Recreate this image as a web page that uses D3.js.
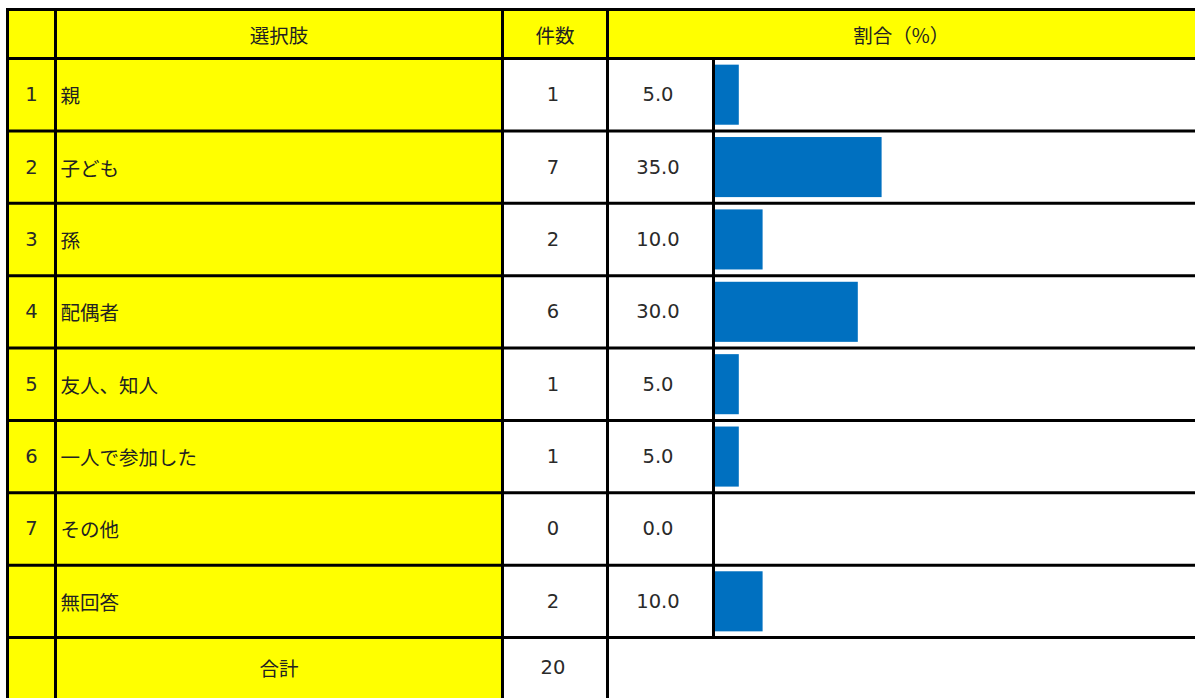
<!DOCTYPE html>
<html><head><meta charset="utf-8">
<script src="https://cdn.jsdelivr.net/npm/d3@7"></script>
<style>
html,body{margin:0;padding:0;background:#fff;}
svg{display:block;}
</style></head>
<body>
<svg id="chart" width="1195" height="698"></svg>
<script>
// ---- data ----
const headers = ["", "選択肢", "件数", "割合（%）"];
const indices = ["1", "2", "3", "4", "5", "6", "7", ""];
const choices = ["親", "子ども", "孫", "配偶者", "友人、知人", "一人で参加した", "その他", "無回答"];
const counts = [1, 7, 2, 6, 1, 1, 0, 2];
const percents = [5.0, 35.0, 10.0, 30.0, 5.0, 5.0, 0.0, 10.0];
const totalLabel = "合計";
const totalCount = 20;

// ---- layout ----
const W = 1195, H = 698;
const colX = [7.5, 55.5, 502.5, 607.5, 713.5, 1200];
const topY = 9.5, headY = 58.5, rowsEnd = 637.5, totalEnd = 698;
const yellow = "#FFFF00", blue = "#0070C0", ink = "#222222", inkNum = "#2a2a2a";
const fontJP = "'Noto Sans CJK JP', 'Noto Sans', sans-serif";
const fontNum = "'DejaVu Sans', 'Noto Sans', sans-serif";
const fs = 19.5, fsNum = 19.5;

const svg = d3.select("#chart");
const rows = d3.range(choices.length);
const y = d3.scaleBand().domain(rows).range([headY, rowsEnd]);
const yBar = d3.scaleBand().domain(rows).range([headY, rowsEnd]).paddingInner(0.17).paddingOuter(0.085);
const x = d3.scaleLinear().domain([0, 100]).range([715, 1191]);

// fills
const fills = svg.append("g");
fills.append("rect").attr("x", colX[0]).attr("y", topY).attr("width", W - colX[0]).attr("height", headY - topY).attr("fill", yellow);
fills.append("rect").attr("x", colX[0]).attr("y", headY).attr("width", colX[2] - colX[0]).attr("height", totalEnd - headY).attr("fill", yellow);

// bars
svg.append("g").selectAll("rect").data(rows).join("rect")
  .attr("x", x(0))
  .attr("y", i => yBar(i))
  .attr("width", i => x(percents[i]) - x(0))
  .attr("height", yBar.bandwidth())
  .attr("fill", blue);

// grid lines
const lines = svg.append("g").attr("stroke", "#000").attr("stroke-width", 3).attr("stroke-linecap", "square");
const hys = [topY, headY].concat(rows.slice(1).map(i => y(i))).concat([rowsEnd]);
lines.selectAll("line.h").data(hys).join("line").attr("class", "h")
  .attr("x1", colX[0]).attr("x2", W + 2).attr("y1", d => d).attr("y2", d => d);
lines.selectAll("line.v").data([0, 1, 2, 3]).join("line").attr("class", "v")
  .attr("x1", i => colX[i]).attr("x2", i => colX[i]).attr("y1", topY).attr("y2", H + 2);
lines.append("line").attr("x1", colX[4]).attr("x2", colX[4]).attr("y1", headY).attr("y2", rowsEnd);

// text
const txt = svg.append("g").attr("fill", ink).attr("font-size", fs).attr("dominant-baseline", "central");
const hCY = (topY + headY) / 2;
txt.append("text").attr("x", (colX[1] + colX[2]) / 2).attr("y", hCY).attr("text-anchor", "middle").attr("font-family", fontJP).text(headers[1]);
txt.append("text").attr("x", (colX[2] + colX[3]) / 2).attr("y", hCY).attr("text-anchor", "middle").attr("font-family", fontJP).text(headers[2]);
txt.append("text").attr("x", (colX[3] + W) / 2).attr("y", hCY).attr("text-anchor", "middle").attr("font-family", fontJP).text(headers[3]);

const cy = i => y(i) + y.bandwidth() / 2;
const num = sel => sel.attr("font-family", fontNum).attr("font-size", fsNum).attr("fill", inkNum);
txt.selectAll("text.idx").data(rows).join("text").attr("class", "idx")
  .attr("x", (colX[0] + colX[1]) / 2).attr("y", cy).attr("text-anchor", "middle")
  .call(num).text(i => indices[i]);
txt.selectAll("text.lab").data(rows).join("text").attr("class", "lab")
  .attr("x", colX[1] + 5).attr("y", cy).attr("font-family", fontJP).text(i => choices[i]);
txt.selectAll("text.cnt").data(rows).join("text").attr("class", "cnt")
  .attr("x", 553).attr("y", cy).attr("text-anchor", "middle")
  .call(num).text(i => counts[i]);
txt.selectAll("text.pct").data(rows).join("text").attr("class", "pct")
  .attr("x", 658).attr("y", cy).attr("text-anchor", "middle")
  .call(num).text(i => d3.format(".1f")(percents[i]));

const tCY = (rowsEnd + totalEnd) / 2;
txt.append("text").attr("x", (colX[1] + colX[2]) / 2).attr("y", tCY).attr("text-anchor", "middle").attr("font-family", fontJP).text(totalLabel);
txt.append("text").attr("x", 553).attr("y", tCY).attr("text-anchor", "middle").call(num).text(totalCount);
</script>
</body></html>
